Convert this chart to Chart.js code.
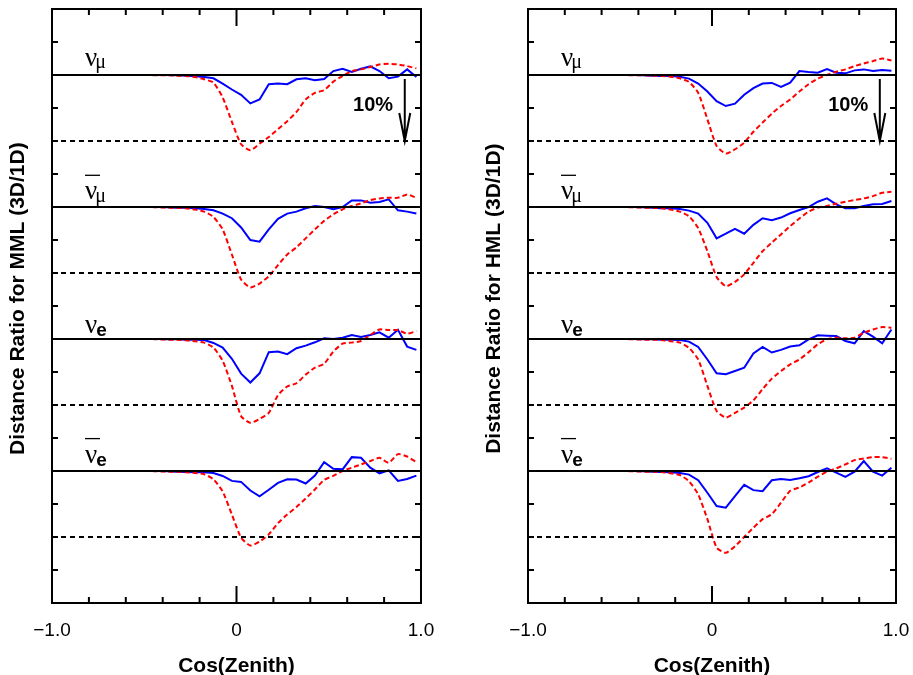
<!DOCTYPE html>
<html>
<head>
<meta charset="utf-8">
<script src="https://cdn.jsdelivr.net/npm/chart.js@4.4.0/dist/chart.umd.min.js"></script>
<style>
  html, body { margin: 0; padding: 0; background: #fff; overflow: hidden; }
  canvas { position: absolute; top: 0; }
</style>
</head>
<body>
<canvas id="mml" width="476" height="675" style="left:0"></canvas>
<canvas id="hml" width="437" height="675" style="left:476px"></canvas>
<script>
// cos(zenith) bin centres, 0.05 wide
var cosZenith = [-0.975, -0.925, -0.875, -0.825, -0.775, -0.725, -0.675, -0.625, -0.575, -0.525,
                 -0.475, -0.425, -0.375, -0.325, -0.275, -0.225, -0.175, -0.125, -0.075, -0.025,
                  0.025,  0.075,  0.125,  0.175,  0.225,  0.275,  0.325,  0.375,  0.425,  0.475,
                  0.525,  0.575,  0.625,  0.675,  0.725,  0.775,  0.825,  0.875,  0.925,  0.975];

// deviation of the 3D/1D ratio from 1, in percent
var mmlNumuSolid     = [0,0,0,0,0,0,0,0,0,0, 0,0,0,-0.05,-0.1,-0.2,-0.3,-0.5,-1.3,-2.2, -3.0,-4.3,-3.7,-1.4,-1.3,-1.4,-0.65,-0.5,-0.8,-0.6, 0.6,0.95,0.45,0.95,1.3,0.6,-0.5,-0.25,0.85,-0.3];
var mmlNumuDashed    = [0,0,0,0,0,0,0,0,0,0, 0,-0.05,-0.05,-0.1,-0.15,-0.3,-0.65,-1.15,-3.4,-7.1, -10.5,-11.4,-10.4,-9.4,-8.2,-7.0,-5.6,-3.7,-2.7,-2.3, -1.0,-0.15,0.6,0.85,1.2,1.6,1.7,1.6,1.35,1.0];
var mmlNumubarSolid  = [0,0,0,0,0,0,0,0,0,0, 0,0,-0.05,-0.1,-0.1,-0.2,-0.3,-0.5,-1.0,-1.7, -3.1,-5.0,-5.25,-3.4,-1.8,-1.0,-0.7,-0.2,0.15,0, -0.35,0,1.0,1.0,0.65,0.75,1.15,-0.5,-0.7,-1.0];
var mmlNumubarDashed = [0,0,0,0,0,0,0,0,0,0, 0,-0.05,-0.1,-0.1,-0.2,-0.4,-0.7,-1.5,-3.4,-7.2, -11.0,-12.2,-11.6,-10.5,-8.8,-7.2,-6.1,-4.75,-3.4,-2.1, -1.1,-0.35,0.15,0.55,1.05,1.3,1.4,1.4,1.9,1.4];
var mmlNueSolid      = [0,0,0,0,0,0,0,0,0,0, 0,0,-0.05,-0.05,-0.1,-0.1,-0.15,-0.6,-1.3,-3.0, -5.25,-6.6,-5.2,-2.0,-1.9,-2.3,-1.4,-1.0,-0.5,0.1, 0,0.2,0.6,0.3,0.6,1.0,0.2,1.4,-1.15,-1.65];
var mmlNueDashed     = [0,0,0,0,0,0,0,0,0,0, 0,-0.05,-0.1,-0.1,-0.2,-0.35,-0.55,-1.3,-3.3,-7.1, -11.7,-12.7,-12.1,-11.2,-8.5,-7.2,-6.7,-5.4,-4.35,-3.75, -1.9,-0.7,-0.55,-0.3,0.6,1.45,1.35,1.35,0.8,1.2];
var mmlNuebarSolid   = [0,0,0,0,0,0,0,0,0,0, 0,0,-0.05,-0.1,-0.15,-0.2,-0.2,-0.3,-0.75,-1.5, -1.65,-2.95,-3.85,-2.85,-1.8,-1.25,-1.3,-1.9,-0.7,1.35, 0.35,0.25,2.1,2.0,0.5,-0.35,0.1,-1.5,-1.2,-0.7];
var mmlNuebarDashed  = [0,0,0,0,0,0,0,0,0,0, 0,-0.05,-0.1,-0.1,-0.2,-0.3,-0.5,-1.25,-3.1,-6.6, -10.1,-11.3,-10.7,-9.6,-7.9,-6.6,-5.45,-4.15,-2.8,-1.35, -0.75,0,0.5,1.0,1.5,2.0,1.25,2.55,2.2,1.35];

var hmlNumuSolid     = [0,0,0,0,0,0,0,0,0,0, 0,0,-0.05,-0.1,-0.15,-0.15,-0.25,-0.55,-1.3,-2.5, -3.95,-4.7,-4.35,-3.0,-2.0,-1.3,-1.2,-1.8,-1.15,0.6, 0.45,0.35,0.9,0.35,0.25,0.7,0.85,0.6,0.75,0.65];
var hmlNumuDashed    = [0,0,0,0,0,0,0,0,0,0, 0,-0.05,-0.05,-0.1,-0.15,-0.25,-0.5,-1.05,-2.7,-6.7, -10.75,-11.9,-11.25,-10.25,-8.6,-7.2,-5.85,-4.7,-3.7,-2.5, -1.4,-0.55,0,0.5,0.85,1.35,1.75,2.1,2.5,2.2];
var hmlNumubarSolid  = [0,0,0,0,0,0,0,0,0,0, 0,0,-0.05,-0.1,-0.2,-0.2,-0.3,-0.55,-1.0,-2.4, -4.75,-4.05,-3.3,-4.05,-2.7,-1.7,-2.0,-1.6,-0.95,-0.45, 0,0.8,1.3,0.4,-0.2,-0.2,0.15,0.4,0.45,0.9];
var hmlNumubarDashed = [0,0,0,0,0,0,0,0,0,0, 0,-0.05,-0.1,-0.1,-0.2,-0.4,-0.7,-1.4,-3.2,-6.7, -10.6,-12.0,-11.35,-10.2,-8.45,-6.7,-5.4,-4.15,-2.9,-1.75, -0.7,-0.1,0.15,0.5,0.8,1.05,1.3,1.65,2.15,2.3];
var hmlNueSolid      = [0,0,0,0,0,0,0,0,0,0, 0,0,-0.05,-0.05,-0.1,-0.1,-0.15,-0.4,-1.2,-3.1, -5.2,-5.35,-4.85,-4.35,-2.2,-1.2,-2.05,-1.65,-1.15,-0.95, -0.05,0.55,0.5,0.45,-0.3,-0.65,1.2,0.35,-0.65,1.45];
var hmlNueDashed     = [0,0,0,0,0,0,0,0,0,0, 0,-0.05,-0.1,-0.1,-0.15,-0.35,-0.55,-1.35,-3.1,-7.1, -10.9,-11.9,-11.2,-10.4,-9.3,-7.6,-6.0,-4.85,-3.85,-3.1, -2.0,-0.8,-0.05,0.2,0.1,0.2,0.95,1.45,1.8,1.7];
var hmlNuebarSolid   = [0,0,0,0,0,0,0,0,0,0, 0,0,-0.05,-0.1,-0.15,-0.2,-0.3,-0.55,-1.4,-3.3, -5.3,-5.55,-3.8,-2.1,-2.9,-3.05,-1.4,-1.2,-1.35,-1.1, -0.8,-0.15,0.4,-0.25,-0.9,-0.1,1.5,-0.1,-0.7,0.5];
var hmlNuebarDashed  = [0,0,0,0,0,0,0,0,0,0, 0,-0.05,-0.1,-0.1,-0.15,-0.35,-0.6,-1.55,-3.55,-7.3, -11.6,-12.4,-11.4,-10.0,-8.6,-7.3,-6.55,-4.8,-3.0,-2.5, -1.75,-0.85,-0.1,0.4,1.0,1.65,1.9,2.1,2.1,1.85];

// each flavour is drawn on its own baseline (y in percent, one tick = 5 %)
var baselines = [80, 60, 40, 20];
var scaleMark = 10;            // dashed line and arrow sit 10 % below each baseline
var flavourSub = ['μ', 'μ', 'e', 'e'];
var flavourBar = [false, true, false, true];
var xTickValues = [-1, 0, 1];
var xTickText = ['−1.0', '0', '1.0'];

var FONT = '"Liberation Sans", Arial, Helvetica, sans-serif';
var SERIF = '"Liberation Serif", "Times New Roman", serif';

function curvePoints(dev, base) {
  return cosZenith.map(function (c, i) { return { x: c, y: base + dev[i] }; });
}
function refLine(v) {
  return [{ x: -1, y: v }, { x: 1, y: v }];
}

// frame, inward ticks, flavour labels and the 10% arrow
var decorations = {
  id: 'decorations',
  afterDraw: function (chart) {
    var ctx = chart.ctx, a = chart.chartArea;
    var x = chart.scales.x, y = chart.scales.y;
    ctx.save();
    ctx.strokeStyle = '#000';
    ctx.fillStyle = '#000';
    ctx.lineWidth = 2;

    ctx.beginPath();
    x.ticks.forEach(function (t) {
      var v = Math.round(t.value * 10) / 10;
      if (v <= -1 || v >= 1) return;
      var px = x.getPixelForValue(v);
      var len = v === 0 ? 17 : 6;
      ctx.moveTo(px, a.bottom); ctx.lineTo(px, a.bottom - len);
      ctx.moveTo(px, a.top); ctx.lineTo(px, a.top + len);
    });
    y.ticks.forEach(function (t) {
      if (t.value <= 0 || t.value >= 90) return;
      var py = y.getPixelForValue(t.value);
      ctx.moveTo(a.left, py); ctx.lineTo(a.left + 6, py);
      ctx.moveTo(a.right, py); ctx.lineTo(a.right - 6, py);
    });
    ctx.stroke();
    ctx.strokeRect(a.left, a.top, a.right - a.left, a.bottom - a.top);

    // flavour labels
    var nuGap = [9, 7.7, 6, 8.4];
    var subDrop = [2, 3, 3, 3.3];
    var lx = a.left + 33;
    ctx.textBaseline = 'alphabetic';
    ctx.textAlign = 'left';
    baselines.forEach(function (b, i) {
      var by = y.getPixelForValue(b) - nuGap[i];
      ctx.font = '27px ' + SERIF;
      ctx.fillText('ν', lx, by);
      var w = ctx.measureText('ν').width;
      if (flavourSub[i] === 'μ') {
        ctx.font = '20px ' + SERIF;
        ctx.fillText('μ', lx + w - 2, by + subDrop[i]);
      } else {
        ctx.font = 'bold 19px ' + FONT;
        ctx.fillText('e', lx + w - 1, by + subDrop[i]);
      }
      if (flavourBar[i]) {
        ctx.lineWidth = 1.3;
        ctx.beginPath();
        ctx.moveTo(lx, by - 24);
        ctx.lineTo(lx + 15, by - 24);
        ctx.stroke();
      }
    });

    // 10% arrow next to the first flavour
    var ax = x.getPixelForValue(0.912);
    var top = y.getPixelForValue(baselines[0]) + 4;
    var tip = y.getPixelForValue(baselines[0] - scaleMark);
    ctx.lineWidth = 2;
    ctx.beginPath();
    ctx.moveTo(ax, top); ctx.lineTo(ax, tip);
    ctx.moveTo(ax - 5.5, tip - 28); ctx.lineTo(ax, tip); ctx.lineTo(ax + 5.5, tip - 28);
    ctx.stroke();
    ctx.font = 'bold 20px ' + FONT;
    ctx.textAlign = 'center';
    ctx.textBaseline = 'middle';
    ctx.fillText(scaleMark + '%', x.getPixelForValue(0.74), y.getPixelForValue(baselines[0] - 4.67));
    ctx.restore();
  }
};

function makePanel(id, yTitle, solid, dashed, padRight) {
  var datasets = [];
  for (var i = 0; i < baselines.length; i++) {
    datasets.push({ data: refLine(baselines[i]), borderColor: '#000', borderWidth: 2, order: 0 });
    datasets.push({ data: refLine(baselines[i] - scaleMark), borderColor: '#000', borderWidth: 2, borderDash: [5, 4], order: 0 });
    datasets.push({ data: curvePoints(dashed[i], baselines[i]), borderColor: '#ff0000', borderWidth: 2, borderDash: [5, 3], tension: 0.2, order: 1 });
    datasets.push({ data: curvePoints(solid[i], baselines[i]), borderColor: '#0000ff', borderWidth: 2, order: 1 });
  }
  return new Chart(document.getElementById(id), {
    type: 'line',
    data: { datasets: datasets },
    options: {
      responsive: false,
      animation: false,
      events: [],
      layout: { padding: { top: 9, right: padRight, left: 0, bottom: 0 } },
      elements: { point: { radius: 0 } },
      plugins: { legend: { display: false }, tooltip: { enabled: false } },
      scales: {
        x: {
          type: 'linear', min: -1, max: 1,
          grid: { display: false, drawTicks: false },
          border: { display: false },
          ticks: {
            stepSize: 0.2, autoSkip: false, maxRotation: 0, padding: 16,
            color: '#000', font: { family: FONT, size: 19 },
            callback: function (v) {
              for (var k = 0; k < xTickValues.length; k++) {
                if (Math.abs(v - xTickValues[k]) < 1e-6) return xTickText[k];
              }
              return '';
            }
          },
          title: { display: true, text: 'Cos(Zenith)', color: '#000', padding: { top: 0, bottom: -4 },
                   font: { family: FONT, size: 21, weight: 'bold' } },
          afterFit: function (s) { s.height = 72; s.paddingLeft = 0; s.paddingRight = 0; }
        },
        y: {
          min: 0, max: 90,
          grid: { display: false, drawTicks: false },
          border: { display: false },
          ticks: { display: false, stepSize: 5 },
          // leading en + thin space nudges the rotated title up a little
          title: { display: true, text: '\u2002\u2009' + yTitle, color: '#000', padding: { top: 6, bottom: 0 },
                   font: { family: FONT, size: 21, weight: 'bold' } },
          afterFit: function (s) { s.width = 52; s.paddingTop = 0; s.paddingBottom = 0; }
        }
      }
    },
    plugins: [decorations]
  });
}

makePanel('mml', 'Distance Ratio for MML (3D/1D)',
  [mmlNumuSolid, mmlNumubarSolid, mmlNueSolid, mmlNuebarSolid],
  [mmlNumuDashed, mmlNumubarDashed, mmlNueDashed, mmlNuebarDashed], 55);
makePanel('hml', 'Distance Ratio for HML (3D/1D)',
  [hmlNumuSolid, hmlNumubarSolid, hmlNueSolid, hmlNuebarSolid],
  [hmlNumuDashed, hmlNumubarDashed, hmlNueDashed, hmlNuebarDashed], 17);
</script>
</body>
</html>
